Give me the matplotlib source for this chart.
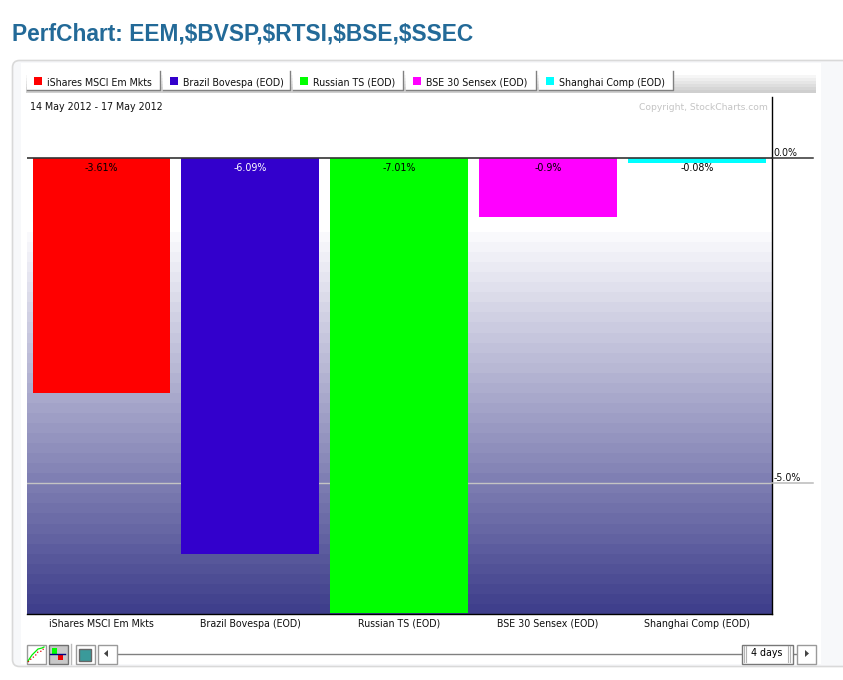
import numpy as np
import matplotlib
matplotlib.use("Agg")
import matplotlib.pyplot as plt
from matplotlib.patches import Rectangle, FancyBboxPatch, Polygon

title = "PerfChart: EEM,$BVSP,$RTSI,$BSE,$SSEC"
categories = ["iShares MSCI Em Mkts", "Brazil Bovespa (EOD)", "Russian TS (EOD)",
              "BSE 30 Sensex (EOD)", "Shanghai Comp (EOD)"]
values = [-3.61, -6.09, -7.01, -0.9, -0.08]
value_labels = ["-3.61%", "-6.09%", "-7.01%", "-0.9%", "-0.08%"]
bar_colors = ["#ff0000", "#3300cc", "#00ff00", "#ff00ff", "#00ffff"]
label_colors = ["black", "white", "black", "black", "black"]
y_ticks = [0, -5]
y_tick_labels = ["0.0%", "-5.0%"]
y_tick_colors = ["#333333", "#bbbbbb"]
date_range = "14 May 2012 - 17 May 2012"
copyright_text = "Copyright, StockCharts.com"
period_label = "4 days"

W, H = 843, 680
FONT = "DejaVu Sans"
SMALL = 6.85
fig = plt.figure(figsize=(W / 100, H / 100), dpi=100, facecolor="white")

# page furniture, in pixel coordinates
bg = fig.add_axes([0, 0, 1, 1], zorder=0)
bg.set_xlim(0, W); bg.set_ylim(H, 0); bg.axis("off")
bg.add_patch(FancyBboxPatch((12.5, 60.5), 860, 606, boxstyle="round,pad=0,rounding_size=7",
                            fc="#f7f8fa", ec="#d9d9d9", lw=1.2))
bg.add_patch(Rectangle((21, 63), 800, 601, fc="white", ec="none"))
bg.text(12, 33.5, title, fontsize=16.4, fontweight="bold", family="Liberation Sans",
        color="#236a98", va="center", ha="left", parse_math=False)

# toolbar strip
strip = np.linspace(0, 1, 6)[:, None]
bg.imshow(strip, extent=(26, 816, 93, 75), cmap=matplotlib.colors.LinearSegmentedColormap.from_list(
    "s", ["#f6f6f6", "#cfcfcf"]), aspect="auto", zorder=1, interpolation="nearest")
bg.set_xlim(0, W); bg.set_ylim(H, 0)
tabs = [(27, 160), (163, 290), (293, 403), (406, 536), (539, 673)]
for (x0, x1), name, color in zip(tabs, categories, bar_colors):
    bg.add_patch(Rectangle((x0, 71), x1 - x0, 19, fc="white", ec="none", zorder=2))
    bg.plot([x0, x1 - .5, x1 - .5], [90, 90, 71], color="#808080", lw=1, zorder=3)
    bg.add_patch(Rectangle((x0 + 7, 77), 8, 8, fc=color, ec="none", zorder=3))
    bg.text(x0 + 20, 82.5, name, fontsize=SMALL, family=FONT, va="center", ha="left",
            color="#111111", zorder=3)

# bottom controls
def button(x0, x1, fc="white", ec="#9a9a9a"):
    bg.add_patch(Rectangle((x0 + .5, 644.5), x1 - x0, 19, fc=fc, ec=ec, lw=1, zorder=2))

button(26, 45)
bg.plot([28, 32, 35, 38, 42, 44], [661, 655, 652, 649, 648, 647], color="#00ee00", lw=0.9, zorder=3)
bg.plot([28, 32, 35, 38, 42, 44], [662, 658, 656, 652, 651, 648], color="#dd0000", lw=0.9, ls=":", zorder=3)
button(48, 67, fc="#c8c8c8", ec="#707070")
bg.add_patch(Rectangle((52, 648), 5, 6, fc="#00ff00", ec="none", zorder=3))
bg.add_patch(Rectangle((58, 654), 5, 6, fc="#ee0000", ec="none", zorder=3))
bg.plot([50, 65], [653.5, 653.5], color="#000080", lw=1, zorder=4)
bg.plot([70.5, 70.5], [644, 664], color="#bbbbbb", lw=1, zorder=2)
button(75, 94)
bg.add_patch(Rectangle((78.5, 648.5), 12, 12, fc="#3a9a9a", ec="#666666", lw=1, zorder=3))
button(97, 116)
bg.add_patch(Polygon([[104, 653.5], [108, 650], [108, 657]], fc="#444444", ec="none", zorder=3))
bg.plot([118, 741], [653.5, 653.5], color="#808080", lw=1, zorder=1)
bg.plot([792, 796], [653.5, 653.5], color="#808080", lw=1, zorder=1)
bg.add_patch(Rectangle((741.5, 644.5), 51, 19, fc="white", ec="#777777", lw=1, zorder=2))
for x in (743.5, 745.5, 787.5, 789.5):
    bg.plot([x, x], [646, 662], color="#b5b5b5", lw=0.8, zorder=3)
bg.text(766.5, 653, period_label, fontsize=SMALL, family=FONT, va="center", ha="center", zorder=3)
button(796, 815)
bg.add_patch(Polygon([[809, 653.5], [805, 650], [805, 657]], fc="#444444", ec="none", zorder=3))

# chart
L, R, T, B = 27, 771.5, 97, 614
ax = fig.add_axes([L / W, 1 - B / H, (R - L) / W, (B - T) / H], zorder=1)
ylim = (-7.02, 0.94)
ax.patch.set_alpha(0)

n_bands = 38
ramp = np.linspace(0, 1, n_bands)[:, None]
cmap = matplotlib.colors.LinearSegmentedColormap.from_list("g", ["#f9f9fc", "#3f3f8c"])
ax.imshow(ramp, extent=(-0.5, 4.5, -7.02, -1.15), origin="upper", cmap=cmap, aspect="auto",
          interpolation="nearest", zorder=0)
ax.set_xlim(-0.5, 4.5)
ax.set_ylim(*ylim)

ax.axhline(-5, color="#c4c4c4", lw=1, zorder=1)
ax.bar(range(len(values)), values, width=0.926, color=bar_colors, zorder=2)
ax.axhline(0, color="#333333", lw=1.2, zorder=3)

for i, (txt, c) in enumerate(zip(value_labels, label_colors)):
    ax.annotate(txt, xy=(i, 0), xytext=(0, -7.4), textcoords="offset points", ha="center", va="center",
                fontsize=SMALL, family=FONT, color=c, zorder=4)

for s in ("left", "top"):
    ax.spines[s].set_visible(False)
ax.spines["right"].set_linewidth(1.0)
ax.spines["bottom"].set_linewidth(1.0)

ax.set_xticks(range(len(categories)))
ax.set_xticklabels(categories, fontsize=SMALL, family=FONT, color="#111111")
ax.tick_params(axis="x", length=0, pad=3.4)
ax.yaxis.tick_right()
ax.set_yticks(y_ticks)
ax.set_yticklabels(y_tick_labels, fontsize=SMALL, family=FONT, va="bottom", color="#111111")
ax.tick_params(axis="y", length=0, pad=1.2)
for y, c in zip(y_ticks, y_tick_colors):
    ax.plot([1, 1.0557], [y, y], transform=ax.get_yaxis_transform(), color=c, lw=1.1,
            clip_on=False, zorder=3)

ax.text(0.995, 0.98, copyright_text, transform=ax.transAxes, ha="right", va="center",
        fontsize=6.6, family=FONT, color="#c4c4c4")
ax.text(0.004, 0.98, date_range, transform=ax.transAxes, ha="left", va="center",
        fontsize=SMALL, family=FONT, color="#111111")

fig.savefig("out.png", dpi=100)
